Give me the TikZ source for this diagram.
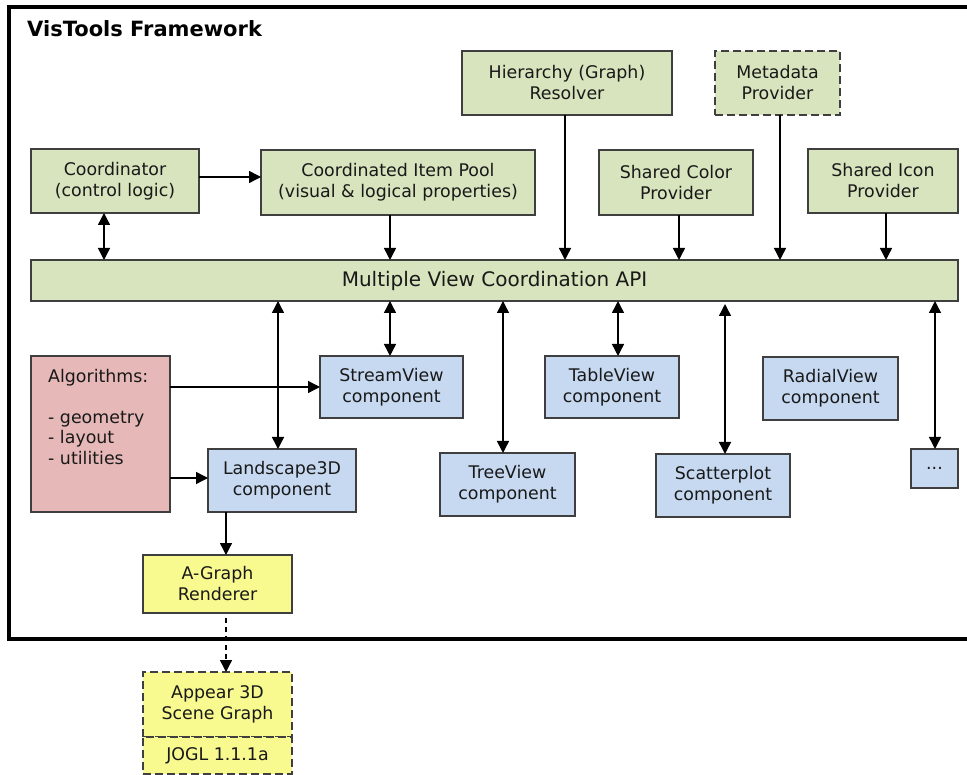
\documentclass[tikz,border=0pt]{standalone}
\usepackage{fontspec}
\setmainfont{DejaVu Sans}
\usepackage{tikz}
\usetikzlibrary{shapes,arrows.meta,positioning}

\definecolor{apigreen}{HTML}{D7E4BD}
\definecolor{viewblue}{HTML}{C6D9F1}
\definecolor{algopink}{HTML}{E6B9B8}
\definecolor{rendyellow}{HTML}{F8F98F}
\definecolor{edgegray}{HTML}{3F3F3F}

\tikzstyle{box} = [rectangle, draw=edgegray, line width=1.3pt, anchor=north west, inner sep=0pt, outer sep=0pt, align=center, text=black!90, font=\fontsize{17.4}{21}\selectfont]
\tikzstyle{gbox} = [box, fill=apigreen]
\tikzstyle{bbox} = [box, fill=viewblue]
\tikzstyle{ybox} = [box, fill=rendyellow]
\tikzstyle{dbox} = [dash pattern=on 8pt off 4pt]
\tikzstyle{line} = [draw, line width=1.4pt, -{Triangle[length=12pt,width=12pt]}]
\tikzstyle{both} = [line, {Triangle[length=12pt,width=12pt]}-{Triangle[length=12pt,width=12pt]}]

\begin{document}
\begin{tikzpicture}[x=1pt, y=-1pt]
			\useasboundingbox (0,0) rectangle (967,775);
			\draw [line width=4pt] (975,7) -- (9,7) -- (9,639) -- (975,639);
			\node [anchor=base west, inner sep=0pt, font=\fontsize{21}{25}\selectfont\bfseries] (title) at (27,37) {VisTools Framework};

			% providers and the coordination layer
			\node [gbox, minimum width=168pt, minimum height=64pt] (coord) at (31,149) {Coordinator\\(control logic)};
			\node [gbox, minimum width=274pt, minimum height=65pt] (pool) at (261,150) {Coordinated Item Pool\\(visual \& logical properties)};
			\node [gbox, minimum width=210pt, minimum height=64pt] (hier) at (462,51) {Hierarchy (Graph)\\Resolver};
			\node [gbox, dbox, minimum width=125pt, minimum height=64pt] (meta) at (715,51) {Metadata\\Provider};
			\node [gbox, minimum width=154pt, minimum height=65pt] (color) at (599,150) {Shared Color\\Provider};
			\node [gbox, minimum width=150pt, minimum height=64pt] (icon) at (808,149) {Shared Icon\\Provider};
			\node [gbox, minimum width=927pt, minimum height=41pt, font=\fontsize{20}{24}\selectfont] (api) at (31,260) {Multiple View Coordination API};

			% views
			\node [box, fill=algopink, minimum width=139pt, minimum height=156pt] (algo) at (31,356) {};
			\node [anchor=north west, align=left, inner sep=0pt, text=black!90, font=\fontsize{17.4}{20.5}\selectfont] (algotext) at (48,369) {Algorithms:\\[20.5pt]- geometry\\- layout\\- utilities};
			\node [bbox, minimum width=143pt, minimum height=62pt] (stream) at (320,356) {StreamView\\component};
			\node [bbox, minimum width=148pt, minimum height=63pt] (land) at (208,449) {Landscape3D\\component};
			\node [bbox, minimum width=135pt, minimum height=63pt] (tree) at (440,453) {TreeView\\component};
			\node [bbox, minimum width=134pt, minimum height=62pt] (table) at (545,356) {TableView\\component};
			\node [bbox, minimum width=135pt, minimum height=63pt] (radial) at (763,357) {RadialView\\component};
			\node [bbox, minimum width=134pt, minimum height=63pt] (scatter) at (656,454) {Scatterplot\\component};
			\node [bbox, minimum width=47pt, minimum height=39pt] (more) at (911,449) {...};

			% rendering
			\node [ybox, minimum width=149pt, minimum height=58pt] (agraph) at (143,555) {A-Graph\\Renderer};
			\node [ybox, dbox, minimum width=149pt, minimum height=65pt] (appear) at (143,672) {Appear 3D\\Scene Graph};
			\node [ybox, dbox, minimum width=149pt, minimum height=37pt] (jogl) at (143,737) {JOGL 1.1.1a};

			\coordinate (coordx) at (104,0);
			\coordinate (poolx) at (390,0);
			\coordinate (hierx) at (565,0);
			\coordinate (colorx) at (679,0);
			\coordinate (metax) at (780,0);
			\coordinate (iconx) at (886,0);
			\coordinate (landx) at (278,0);
			\coordinate (treex) at (503,0);
			\coordinate (tablex) at (618,0);
			\coordinate (scatterx) at (725,0);
			\coordinate (morex) at (935,0);
			\coordinate (rendx) at (226,0);
			\coordinate (ctrly) at (0,177);
			\coordinate (algoa) at (0,387);
			\coordinate (algob) at (0,478);

			\path [line] (coord.east |- ctrly) -- (pool.west |- ctrly);
			\path [both] (coord.south -| coordx) -- (api.north -| coordx);
			\path [line] (pool.south -| poolx) -- (api.north -| poolx);
			\path [line] (hier.south -| hierx) -- (api.north -| hierx);
			\path [line] (color.south -| colorx) -- (api.north -| colorx);
			\path [line] (meta.south -| metax) -- (api.north -| metax);
			\path [line] (icon.south -| iconx) -- (api.north -| iconx);

			\path [both] (api.south -| poolx) -- (stream.north -| poolx);
			\path [both] (api.south -| landx) -- (land.north -| landx);
			\path [both] (api.south -| treex) -- (tree.north -| treex);
			\path [both] (api.south -| tablex) -- (table.north -| tablex);
			\path [both, shorten <=3pt] (api.south -| scatterx) -- (scatter.north -| scatterx);
			\path [both] (api.south -| morex) -- (more.north -| morex);

			\path [line] (algo.east |- algoa) -- (stream.west |- algoa);
			\path [line] (algo.east |- algob) -- (land.west |- algob);
			\path [line] (land.south -| rendx) -- (agraph.north -| rendx);
			\path [line, dash pattern=on 5pt off 4pt, shorten <=5pt] (agraph.south -| rendx) -- (appear.north -| rendx);
		\end{tikzpicture}
\end{document}
